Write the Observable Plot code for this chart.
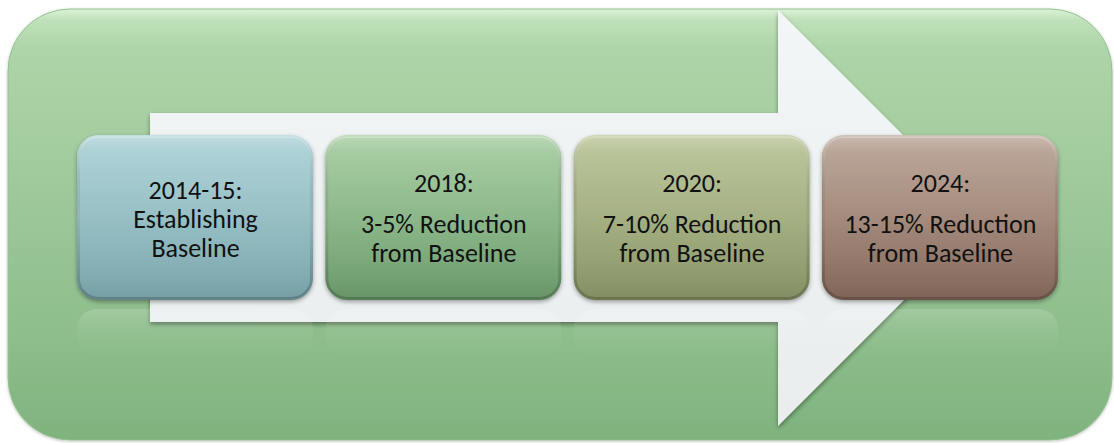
<!DOCTYPE html>
<html>
<head>
<meta charset="utf-8">
<script src="https://cdn.jsdelivr.net/npm/d3@7"></script>
<script src="https://cdn.jsdelivr.net/npm/@observablehq/plot@0.6"></script>
<style>
  html, body { margin: 0; padding: 0; background: #ffffff; }
  #chart svg { display: block; }
</style>
</head>
<body>
<div id="chart"></div>
<script>
// ---- data ----
const stageTitles = ["2014-15:", "2018:", "2020:", "2024:"];
const stageDetails = [
  "Establishing\nBaseline",
  "3-5% Reduction\nfrom Baseline",
  "7-10% Reduction\nfrom Baseline",
  "13-15% Reduction\nfrom Baseline"
];
const stageTop = ["#acd2d7", "#a6cda1", "#bac598", "#bba597"];
const stageBottom = ["#7aa7ac", "#6c9c6d", "#899566", "#85685a"];

// ---- layout (diagram geometry, in page pixels) ----
const W = 1114, H = 443;
const bg = {x1: 8, x2: 1112, y1: 9, y2: 440};
const boxStart = 77, boxStep = 248.3, boxW = 236, boxY1 = 135, boxY2 = 300;
// block arrow outline as an area: top edge y1, bottom edge y2 along x
const arrowX  = [150, 778, 778, 986];
const arrowY1 = [113, 113, 10, 218];
const arrowY2 = [322, 322, 426, 218];

const boxes = stageTitles.map((t, i) => ({
  i,
  title: t,
  detail: stageDetails[i],
  x1: boxStart + i * boxStep,
  x2: boxStart + i * boxStep + boxW,
  xm: boxStart + i * boxStep + boxW / 2,
  fill: `url(#box${i})`,
  gap: i > 0
}));
const arrow = arrowX.map((x, i) => ({x, y1: arrowY1[i], y2: arrowY2[i]}));

const font = "Calibri, Carlito, Lato, sans-serif";

const plot = Plot.plot({
  width: W,
  height: H,
  margin: 0,
  x: {type: "linear", domain: [0, W], range: [0, W], axis: null},
  y: {type: "linear", domain: [0, H], range: [0, H], axis: null},
  style: {background: "transparent"},
  marks: [
    // 0: green rounded panel
    Plot.rect([bg], {x1: "x1", x2: "x2", y1: "y1", y2: "y2", rx: 62, fill: "url(#bgGrad)", stroke: "#93c08f", strokeWidth: 1}),
    // 1: white block arrow
    Plot.areaY(arrow, {x: "x", y1: "y1", y2: "y2", curve: "linear", fill: "url(#arrowGrad)"}),
    // 2: reflections under boxes
    Plot.rect(boxes, {x1: "x1", x2: "x2", y1: () => boxY2 + 9, y2: () => boxY2 + 58, rx: 20, fill: "url(#refl)"}),
    // 3: stage boxes
    Plot.rect(boxes, {x1: "x1", x2: "x2", y1: () => boxY1, y2: () => boxY2, rx: 22, fill: "fill"}),
    // 4: bevel / gloss
    Plot.rect(boxes, {x1: d => d.x1 + 1.5, x2: d => d.x2 - 1.5, y1: () => boxY1 + 1.5, y2: () => boxY2 - 1.5, rx: 20, fill: "url(#gloss)", stroke: "url(#edge)", strokeWidth: 3}),
    // 5: titles
    Plot.text(boxes, {x: "xm", y: d => d.gap ? 183 : 190, text: "title", fontSize: 26, fontFamily: font, fill: "#111", lineAnchor: "middle"}),
    // 6: details
    Plot.text(boxes, {x: "xm", y: d => d.gap ? 238 : 233, text: "detail", fontSize: 26, fontFamily: font, fill: "#111", lineAnchor: "middle", lineHeight: 1.1})
  ]
});

const svg = d3.select(plot);
const defs = svg.insert("defs", ":first-child");

function vgrad(id, stops) {
  const g = defs.append("linearGradient").attr("id", id).attr("x1", 0).attr("y1", 0).attr("x2", 0).attr("y2", 1);
  stops.forEach(([o, c, op]) => g.append("stop").attr("offset", o).attr("stop-color", c).attr("stop-opacity", op == null ? 1 : op));
}

vgrad("bgGrad", [[0, "#dcf3d6"], [0.025, "#c0e1ba"], [0.09, "#aed5a9"], [0.4, "#a0c99c"], [0.75, "#8ebe8c"], [1, "#7fb37e"]]);
vgrad("arrowGrad", [[0, "#f3f6f6"], [0.5, "#eef1f1"], [1, "#e9eded"]]);
vgrad("refl", [[0, "#ffffff", 0.16], [0.45, "#ffffff", 0.05], [1, "#ffffff", 0]]);
vgrad("gloss", [[0, "#ffffff", 0.22], [0.1, "#ffffff", 0.05], [0.6, "#ffffff", 0], [1, "#000000", 0.05]]);
vgrad("edge", [[0, "#ffffff", 0.3], [0.5, "#000000", 0.05], [1, "#000000", 0.2]]);
stageTop.forEach((c, i) => vgrad(`box${i}`, [[0, c], [0.5, d3.interpolateRgb(c, stageBottom[i])(0.45)], [1, stageBottom[i]]]));

function shadow(id, dy, sd, op) {
  const f = defs.append("filter").attr("id", id).attr("x", "-5%").attr("y", "-10%").attr("width", "110%").attr("height", "125%");
  f.append("feDropShadow").attr("dx", 0).attr("dy", dy).attr("stdDeviation", sd).attr("flood-color", "#000").attr("flood-opacity", op);
}
shadow("boxShadow", 2, 2, 0.35);
shadow("arrowShadow", 2.5, 2, 0.4);
shadow("panelShadow", 1, 1.5, 0.25);

const layers = plot.querySelectorAll(":scope > g");
layers[0].setAttribute("filter", "url(#panelShadow)");
layers[1].setAttribute("filter", "url(#arrowShadow)");
layers[3].setAttribute("filter", "url(#boxShadow)");

document.getElementById("chart").appendChild(plot);
</script>
</body>
</html>
